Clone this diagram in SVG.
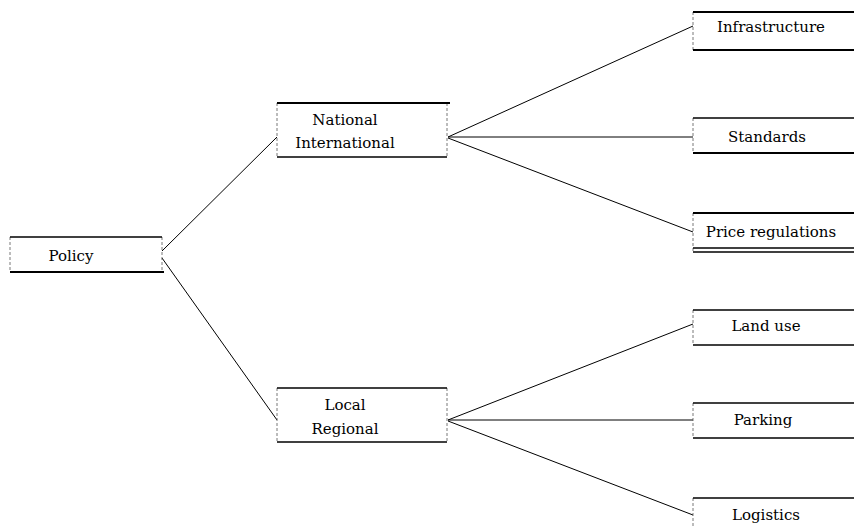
<svg xmlns="http://www.w3.org/2000/svg" width="854" height="527" viewBox="0 0 854 527">
  <style>
    .side { stroke: #555; stroke-width: 0.8; stroke-dasharray: 3 2; fill: none; }
    .edge { stroke: #000; stroke-width: 1.3; fill: none; }
    .thick { stroke: #000; stroke-width: 2.2; fill: none; }
    .conn { stroke: #000; stroke-width: 1; fill: none; }
    .lbl { font-family: 'DejaVu Serif', 'Liberation Serif', serif; font-size: 15px; fill: #000; text-anchor: middle; }
  </style>
  <rect width="854" height="527" fill="#fff"/>

  <g id="connectors">
    <line class="conn" x1="162" y1="251" x2="277" y2="137"/>
    <line class="conn" x1="162" y1="258" x2="277" y2="420"/>
    <line class="conn" x1="448" y1="137" x2="693" y2="26"/>
    <line class="conn" x1="448" y1="137" x2="693" y2="137"/>
    <line class="conn" x1="448" y1="138" x2="693" y2="232"/>
    <line class="conn" x1="448" y1="420" x2="693" y2="324"/>
    <line class="conn" x1="448" y1="420" x2="693" y2="420"/>
    <line class="conn" x1="448" y1="421" x2="693" y2="515"/>
  </g>

  <g id="policy">
    <line class="side" x1="10" y1="237" x2="10" y2="272"/>
    <line class="side" x1="162" y1="237" x2="162" y2="272"/>
    <line class="edge" x1="10" y1="237" x2="162" y2="237"/>
    <line class="thick" x1="10" y1="272" x2="164" y2="272"/>
    <text class="lbl" x="71" y="261">Policy</text>
  </g>

  <g id="national">
    <line class="side" x1="277" y1="103" x2="277" y2="157"/>
    <line class="side" x1="447" y1="103" x2="447" y2="157"/>
    <line class="thick" x1="277" y1="103" x2="450" y2="103"/>
    <line class="edge" x1="277" y1="157" x2="447" y2="157"/>
    <text class="lbl" x="345" y="125">National</text>
    <text class="lbl" x="345" y="148">International</text>
  </g>

  <g id="local">
    <line class="side" x1="277" y1="388" x2="277" y2="442"/>
    <line class="side" x1="447" y1="388" x2="447" y2="442"/>
    <line class="edge" x1="277" y1="388" x2="447" y2="388"/>
    <line class="edge" x1="277" y1="442" x2="447" y2="442"/>
    <text class="lbl" x="345" y="410">Local</text>
    <text class="lbl" x="345" y="434">Regional</text>
  </g>

  <g id="infrastructure">
    <line class="side" x1="693" y1="12" x2="693" y2="50"/>
    <line class="thick" x1="693" y1="12" x2="854" y2="12"/>
    <line class="thick" x1="693" y1="50" x2="854" y2="50"/>
    <text class="lbl" x="771" y="32">Infrastructure</text>
  </g>

  <g id="standards">
    <line class="side" x1="693" y1="118" x2="693" y2="153"/>
    <line class="edge" x1="693" y1="118" x2="854" y2="118"/>
    <line class="thick" x1="693" y1="153" x2="854" y2="153"/>
    <text class="lbl" x="767" y="142">Standards</text>
  </g>

  <g id="price-regulations">
    <line class="side" x1="693" y1="213" x2="693" y2="252"/>
    <line class="thick" x1="693" y1="213" x2="854" y2="213"/>
    <line class="edge" x1="693" y1="248" x2="854" y2="248"/>
    <line class="edge" x1="693" y1="252" x2="854" y2="252"/>
    <text class="lbl" x="771" y="237">Price regulations</text>
  </g>

  <g id="land-use">
    <line class="side" x1="693" y1="310" x2="693" y2="345"/>
    <line class="edge" x1="693" y1="310" x2="854" y2="310"/>
    <line class="edge" x1="693" y1="345" x2="854" y2="345"/>
    <text class="lbl" x="766" y="331">Land use</text>
  </g>

  <g id="parking">
    <line class="side" x1="693" y1="403" x2="693" y2="438"/>
    <line class="edge" x1="693" y1="403" x2="854" y2="403"/>
    <line class="edge" x1="693" y1="438" x2="854" y2="438"/>
    <text class="lbl" x="763" y="425">Parking</text>
  </g>

  <g id="logistics">
    <line class="side" x1="693" y1="498" x2="693" y2="527"/>
    <line class="edge" x1="693" y1="498" x2="854" y2="498"/>
    <text class="lbl" x="766" y="520">Logistics</text>
  </g>
</svg>
